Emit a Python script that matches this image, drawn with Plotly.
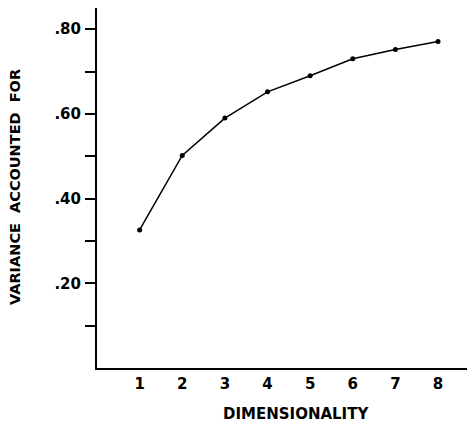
import plotly.graph_objects as go

dimensionality = [1, 2, 3, 4, 5, 6, 7, 8]
variance = [0.326, 0.502, 0.590, 0.652, 0.690, 0.730, 0.752, 0.771]

y_tick_vals = [0.1, 0.2, 0.3, 0.4, 0.5, 0.6, 0.7, 0.8]
y_tick_text = ["", ".20", "", ".40", "", ".60", "", ".80"]
x_tick_vals = [1, 2, 3, 4, 5, 6, 7, 8]
x_tick_text = ["1", "2", "3", "4", "5", "6", "7", "8"]

x_title = "DIMENSIONALITY"
y_title = "VARIANCE\u00a0\u00a0ACCOUNTED\u00a0\u00a0FOR"

FONT = "DejaVu Sans"

fig = go.Figure()
fig.add_trace(go.Scatter(
    x=dimensionality, y=variance, mode="lines+markers",
    line=dict(color="black", width=1.5),
    marker=dict(color="black", size=5),
    showlegend=False,
))

# page has an 8px body margin, so the figure is sized and offset to compensate
fig.update_layout(
    width=467, height=420,
    margin=dict(l=89, r=5, t=0, b=60),
    paper_bgcolor="white", plot_bgcolor="white",
    font=dict(family=FONT, color="black", size=14),
    xaxis=dict(
        range=[0, 8.75], showgrid=False, zeroline=False,
        showline=True, linecolor="black", linewidth=2,
        tickvals=x_tick_vals, ticktext=x_tick_text,
        ticks="", ticklabelstandoff=1,
        tickfont=dict(family=FONT, size=15, weight="bold"),
    ),
    yaxis=dict(
        range=[0, 0.85], showgrid=False, zeroline=False,
        showline=True, linecolor="black", linewidth=2,
        tickvals=y_tick_vals, ticktext=y_tick_text,
        ticks="outside", ticklen=10, tickwidth=1.5, tickcolor="black",
        ticklabelstandoff=1,
        tickfont=dict(family=FONT, size=15, weight="bold"),
    ),
    annotations=[
        dict(text=x_title, xref="paper", yref="paper", x=(288 - 89) / 373, y=-46 / 360,
             xanchor="center", yanchor="middle", showarrow=False,
             font=dict(family=FONT, size=15, weight="bold")),
        dict(text=y_title, xref="paper", yref="paper", x=(7 - 89) / 373, y=(360 - 179) / 360,
             xanchor="center", yanchor="middle", showarrow=False, textangle=-90,
             font=dict(family=FONT, size=14.5, weight="bold")),
    ],
)

fig.write_html("out.html")
